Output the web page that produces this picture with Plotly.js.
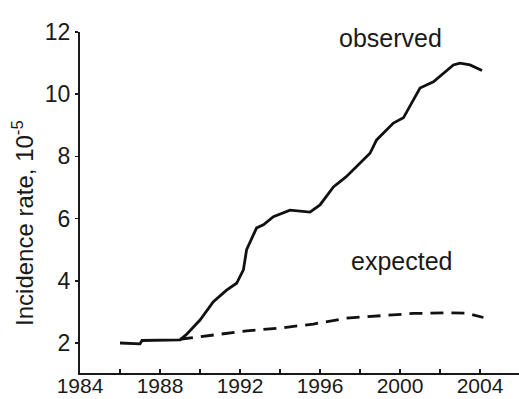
<!DOCTYPE html>
<html>
<head>
<meta charset="utf-8">
<script src="https://cdn.plot.ly/plotly-3.0.1.min.js"></script>
<style>html,body{margin:0;padding:0;background:#fff;}#chart{width:519px;height:399px;}</style>
</head>
<body>
<div id="chart"></div>
<script>
// Observed incidence (per 10^5)
const observedYears = [1986, 1987, 1987.1, 1989, 1989.3, 1990, 1990.67, 1991.33, 1991.83, 1992.17, 1992.33, 1992.83, 1993.17, 1993.67, 1994.5, 1995.5, 1996, 1996.67, 1997.3, 1997.8, 1998.5, 1998.83, 1999.67, 2000.17, 2000.83, 2001, 2001.67, 2002.17, 2002.67, 2003, 2003.5, 2004.1];
const observedRates = [2.0, 1.97, 2.08, 2.1, 2.26, 2.74, 3.33, 3.70, 3.92, 4.35, 5.0, 5.70, 5.80, 6.06, 6.27, 6.21, 6.44, 7.02, 7.34, 7.66, 8.1, 8.53, 9.07, 9.24, 10.04, 10.2, 10.4, 10.68, 10.94, 11.0, 10.94, 10.76];
// Expected incidence (per 10^5)
const expectedYears = [1989, 1990.67, 1992.33, 1994, 1995.67, 1997.33, 1999, 2000.67, 2002.33, 2003.33, 2004.17];
const expectedRates = [2.12, 2.26, 2.39, 2.48, 2.61, 2.80, 2.87, 2.95, 2.97, 2.96, 2.82];
// Tick labels
const xTickVals = [1984, 1988, 1992, 1996, 2000, 2004];
const xTickText = ['1984', '1988', '1992', '1996', '2000', '2004'];
const yTickVals = [2, 4, 6, 8, 10, 12];
const yTickText = ['2', '4', '6', '8', '10', '12'];
const seriesLabels = ['observed', 'expected'];

const FONT = 'Liberation Sans, Arial, Helvetica, sans-serif';
const INK = '#1a1a1a';

const traces = [
  {x: observedYears, y: observedRates, type: 'scatter', mode: 'lines', name: seriesLabels[0],
   line: {color: '#111', width: 2.8}},
  {x: expectedYears, y: expectedRates, type: 'scatter', mode: 'lines', name: seriesLabels[1],
   line: {color: '#111', width: 2.8, dash: '13px,8px'}}
];

const layout = {
  width: 519, height: 399,
  margin: {l: 80, r: 0, t: 32, b: 26},
  paper_bgcolor: '#fff', plot_bgcolor: '#fff',
  showlegend: false,
  font: {family: FONT, color: INK},
  xaxis: {
    range: [1984, 2005.95], tickmode: 'array', tickvals: xTickVals, ticktext: xTickText,
    ticks: 'inside', ticklen: 4, tickwidth: 1.5, tickcolor: INK,
    minor: {tickmode: 'linear', tick0: 1984, dtick: 2, ticks: 'inside', ticklen: 4, tickwidth: 1.5, tickcolor: INK, showgrid: false},
    showline: true, linecolor: INK, linewidth: 2, showgrid: false, zeroline: false,
    ticklabelstandoff: -7,
    tickfont: {size: 21, family: FONT, color: INK}
  },
  yaxis: {
    range: [1.035, 12], tickmode: 'array', tickvals: yTickVals, ticktext: yTickText,
    ticks: 'outside', ticklen: 3, tickwidth: 1.5, tickcolor: INK,
    showline: true, linecolor: INK, linewidth: 2, showgrid: false, zeroline: false,
    tickfont: {size: 23, family: FONT, color: INK}
  },
  annotations: [
    {text: 'Incidence rate, 10<sup>-5</sup>', textangle: -90, xref: 'paper', yref: 'paper',
     x: -57/439, y: 0.44, xanchor: 'center', yanchor: 'middle', showarrow: false,
     font: {size: 24, family: FONT, color: INK}},
    {text: seriesLabels[0], xref: 'x', yref: 'y', x: 1999.5, y: 11.8, showarrow: false,
     xanchor: 'center', yanchor: 'middle', font: {size: 25, family: FONT, color: INK}},
    {text: seriesLabels[1], xref: 'x', yref: 'y', x: 2000.05, y: 4.64, showarrow: false,
     xanchor: 'center', yanchor: 'middle', font: {size: 25, family: FONT, color: INK}}
  ]
};

Plotly.newPlot('chart', traces, layout, {displayModeBar: false, staticPlot: true});
</script>
</body>
</html>
